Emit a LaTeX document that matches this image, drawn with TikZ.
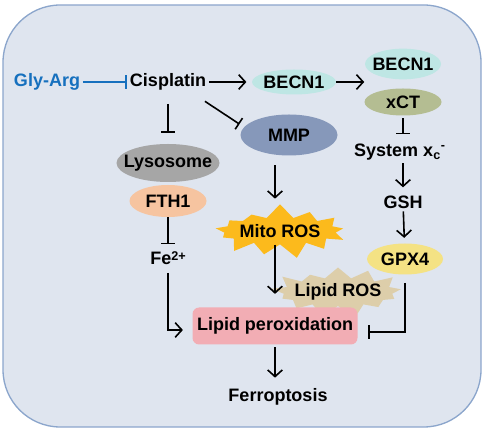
\documentclass[tikz,border=0pt]{standalone}
\usepackage{fontspec}
\setmainfont{Liberation Sans}
\usepackage{tikz}
\usetikzlibrary{positioning, shapes, arrows.meta}
\definecolor{cellfill}{RGB}{223,229,239}
\definecolor{cellline}{RGB}{140,166,204}
\definecolor{glyblue}{RGB}{22,112,190}
\definecolor{becncol}{RGB}{190,230,228}
\definecolor{xctcol}{RGB}{180,189,146}
\definecolor{lysocol}{RGB}{166,166,166}
\definecolor{fthcol}{RGB}{246,196,160}
\definecolor{mmpcol}{RGB}{134,152,186}
\definecolor{mitocol}{RGB}{252,186,28}
\definecolor{lroscol}{RGB}{221,206,170}
\definecolor{gpxcol}{RGB}{244,226,132}
\definecolor{lpocol}{RGB}{242,173,180}
\tikzstyle{cell} = [draw=cellline, fill=cellfill, line width=1pt,
    rounded corners=43pt]
\tikzstyle{blob} = [ellipse, inner sep=0pt]
\tikzstyle{burst} = [starburst, inner sep=0pt, starburst points=13,
    starburst point height=11pt]
\tikzstyle{act} = [-{Straight Barb[length=5pt,width=11pt]}, line width=1.2pt]
\tikzstyle{inh} = [-{Bar[width=10pt]}, line width=1.2pt]
\newcommand{\zw}[1]{\makebox[0pt]{#1}}

\begin{document}
\begin{tikzpicture}[x=0.75pt, y=0.75pt, auto, node distance=2cm,
    font=\fontsize{13.5}{16}\selectfont\bfseries, inner sep=2pt]
        \useasboundingbox (0,0) rectangle (484,431);
        \draw[cell] (3,4) rectangle (481,426);

        % left column
        \node(cis) at (168,349){Cisplatin};
        \node[left of=cis, node distance=90.75pt, text=glyblue](gly){Gly-Arg};
        \node[
            blob, fill=lysocol,
            minimum width=77.25pt, minimum height=28.5pt,
            below of=cis, node distance=60.75pt
        ](lyso){\zw{Lysosome}};
        \node[
            blob, fill=fthcol,
            minimum width=57.75pt, minimum height=24pt,
            below of=lyso, node distance=28.5pt
        ](fth){\zw{FTH1}};
        \node[below of=fth, node distance=42.75pt](fe)
            {Fe\raisebox{0.45ex}{\fontsize{9.5}{10}\selectfont 2+}};

        % middle column
        \node[
            blob, fill=becncol,
            minimum width=63pt, minimum height=18.75pt,
            right of=cis, node distance=94.5pt
        ](becn){\zw{BECN1}};
        \node[
            blob, fill=mmpcol,
            minimum width=72.75pt, minimum height=30.75pt,
            below of=becn, node distance=39.75pt, xshift=-3.75pt
        ](mmp){\zw{MMP}};
        \node[burst, fill=mitocol, minimum width=106pt, minimum height=42pt,
            random starburst=7] (mito) at (280,200){\zw{Mito ROS}};
        \node[burst, fill=lroscol, minimum width=104pt, minimum height=43pt,
            random starburst=21] (lros) at (338,139){\zw{Lipid ROS}};
        \node[
            fill=lpocol, rounded corners=5pt, inner sep=0pt,
            minimum width=123.75pt, minimum height=27.75pt
        ](lpo) at (275,105){Lipid peroxidation};
        \node[below of=lpo, node distance=53.25pt, xshift=2.25pt](fer){Ferroptosis};

        % right column
        \node[
            blob, fill=becncol,
            minimum width=57pt, minimum height=23pt
        ](becnx) at (403,367){\zw{BECN1}};
        \node[
            blob, fill=xctcol,
            minimum width=57.75pt, minimum height=20.25pt,
            below of=becnx, node distance=28.5pt
        ](xct){\zw{xCT}};
        \node[below of=xct, node distance=37.5pt, xshift=-2.25pt](sys)
            {System x\textsubscript{c}\textsuperscript{-}};
        \node[below of=sys, node distance=37.5pt, xshift=2.25pt](gsh){GSH};
        \node[
            blob, fill=gpxcol,
            minimum width=57pt, minimum height=23.25pt,
            below of=gsh, node distance=42.75pt, xshift=1.5pt
        ](gpx){\zw{GPX4}};

        % connectors
        \draw[inh, glyblue] (gly) -- (cis);
        \draw[act, shorten >=4pt] (cis) -- (becn);
        \draw[act] (becn) -- (becn -| xct.west);
        \draw[inh, shorten <=8pt, shorten >=8pt] (cis) -- (lyso);
        \draw[inh, shorten >=4pt] ([xshift=-3pt, yshift=-6pt]cis.south east) -- (mmp.170);
        \draw[inh, shorten >=3pt] (fth) -- (fe);
        \draw[act, shorten <=4pt, shorten >=7pt] (fe.south) |- ([yshift=-3pt]lpo.west);
        \draw[act, shorten <=7pt, shorten >=4pt] (mmp.south -| lpo) -- (mito.north -| lpo);
        \draw[act, shorten >=10pt] (mito.south -| lpo) -- (lpo.north);
        \draw[act, shorten <=2pt, shorten >=6pt] (lpo.south) -- (lpo.south |- fer.north);
        \draw[inh, shorten <=2pt, shorten >=5pt] (xct) -- (xct |- sys.north);
        \draw[act, shorten >=4pt] (sys.south -| gsh) -- (gsh);
        \draw[act, shorten >=4pt] (gsh) -- (gpx);
        \draw[inh, shorten <=6pt, shorten >=8pt] (gpx.south) |- ([yshift=-4.5pt]lpo.east);
    \end{tikzpicture}
\end{document}
